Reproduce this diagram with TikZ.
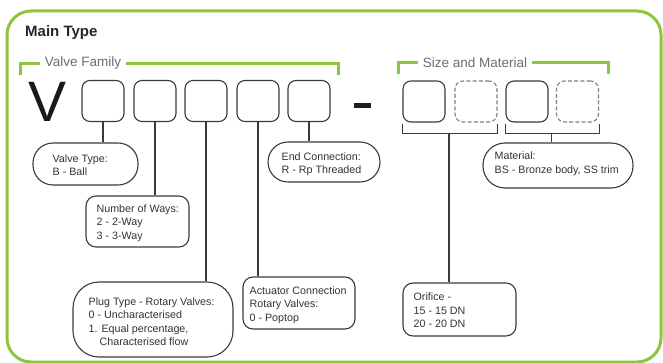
\documentclass[tikz,border=0pt]{standalone}
\usepackage{fontspec}
\setmainfont{Liberation Sans}
\usetikzlibrary{calc}
\definecolor{grnc}{HTML}{8CC63F}
\definecolor{boxc}{HTML}{3A3A3A}
\definecolor{dashc}{HTML}{808080}
\definecolor{txtc}{HTML}{333333}
\definecolor{lblc}{HTML}{6D6D6D}
\begin{document}
\begin{tikzpicture}[x=1pt,y=-1pt,
  cbox/.style={draw=boxc, line width=1.1pt, rounded corners=8pt, minimum width=42pt, minimum height=41pt, inner sep=0pt},
  dbox/.style={cbox, draw=dashc, dash pattern=on 4pt off 2.2pt},
  info/.style={draw=boxc, line width=1.1pt, inner sep=0pt},
  itxt/.style={anchor=west, text=txtc, font=\fontsize{10.7}{13.5}\selectfont, align=left, inner sep=0pt},
  stem/.style={draw=boxc, line width=1.1pt},
  grn/.style={draw=grnc, line width=3pt},
  lbl/.style={fill=white, text=lblc, font=\fontsize{13.5}{15}\selectfont, inner xsep=4.5pt, inner ysep=1pt}]
\useasboundingbox (0,0) rectangle (663,363);
% frame
\draw[grn, rounded corners=24pt] (7,11) rectangle (661,362);
\node[anchor=base west, font=\fontsize{15}{17}\selectfont\bfseries, text=black!85, inner sep=0pt] (title) at (25,37) {Main Type};
% green brackets
\draw[grn] (20,75) -- (20,64) -- (338,64) -- (338,75);
\node[lbl] (vf) at (83,63.5) {Valve Family};
\draw[grn] (398,74) -- (398,63) -- (608,63) -- (608,74);
\node[lbl] (sm) at (475,63) {Size and Material};
% V and dash
\node[anchor=base, font=\fontsize{57}{60}\selectfont, text=black!90, inner sep=0pt] (V) at (47.5,122) {V};
\node[fill=black!88, minimum width=17pt, minimum height=5pt, inner sep=0pt] (dash) at (362.5,105.5) {};
% code boxes
\node[cbox] (b1) at (103,101) {};
\node[cbox] (b2) at (155,101) {};
\node[cbox] (b3) at (206,101) {};
\node[cbox] (b4) at (258,101) {};
\node[cbox] (b5) at (309,101) {};
\node[cbox] (b6) at (424,101.5) {};
\node[dbox] (b7) at (476,101.5) {};
\node[cbox] (b8) at (527,101.5) {};
\node[dbox] (b9) at (577.5,101.5) {};
% info boxes
\node[info, rounded corners=20pt, minimum width=105pt, minimum height=42pt] (vt) at (85.5,164) {};
\node[itxt] (vtt) at ($(vt.west)+(20,1)$) {Valve Type:\\B - Ball};
\node[info, rounded corners=10pt, minimum width=103pt, minimum height=51pt] (now) at (137.5,221.5) {};
\node[itxt] (nowt) at ($(now.west)+(11,1.5)$) {Number of Ways:\\2 - 2-Way\\3 - 3-Way};
\node[info, rounded corners=26pt, minimum width=160pt, minimum height=75pt] (plug) at (153,319.5) {};
\node[itxt] (plugt) at ($(plug.west)+(16,2)$) {Plug Type - Rotary Valves:\\0 - Uncharacterised\\1. Equal percentage,\\\hspace*{11pt}Characterised flow};
\node[info, rounded corners=10pt, minimum width=112pt, minimum height=52pt] (act) at (299,303) {};
\node[itxt] (actt) at ($(act.west)+(7,2)$) {Actuator Connection\\Rotary Valves:\\0 - Poptop};
\node[info, rounded corners=20pt, minimum width=112pt, minimum height=40pt] (endc) at (324,162) {};
\node[itxt] (endt) at ($(endc.west)+(14,2)$) {End Connection:\\R - Rp Threaded};
\node[info, rounded corners=10pt, minimum width=113pt, minimum height=53pt] (ori) at (459.5,309.5) {};
\node[itxt] (orit) at ($(ori.west)+(11,1)$) {Orifice -\\15 - 15 DN\\20 - 20 DN};
\node[info, rounded corners=22pt, minimum width=150pt, minimum height=45pt] (mat) at (558,165.5) {};
\node[itxt] (matt) at ($(mat.west)+(12,-2)$) {Material:\\BS - Bronze body, SS trim};
% stems
\draw[stem] (b1.south) -- (b1.south |- vt.north);
\draw[stem] (b2.south) -- (b2.south |- now.north);
\draw[stem] (b3.south) -- (b3.south |- plug.north);
\draw[stem] (b4.south) -- (b4.south |- act.north);
\draw[stem] (b5.south) -- (b5.south |- endc.north);
% lower brackets
\draw[stem] ($(b6.south west)+(0,1)$) -- ++(0,10) -| ($(b7.south east)+(0,1)$);
\coordinate (m1) at ($(b6.south west)!0.5!(b7.south east)+(-1,11)$);
\draw[stem] (m1) -- (m1 |- ori.north);
\draw[stem] ($(b8.south west)+(0,1)$) -- ++(0,10) -| ($(b9.south east)+(0,1)$);
\coordinate (m2) at ($(b8.south west)!0.5!(b9.south east)+(-1,11)$);
\draw[stem] (m2) -- (m2 |- mat.north);
\end{tikzpicture}
\end{document}
